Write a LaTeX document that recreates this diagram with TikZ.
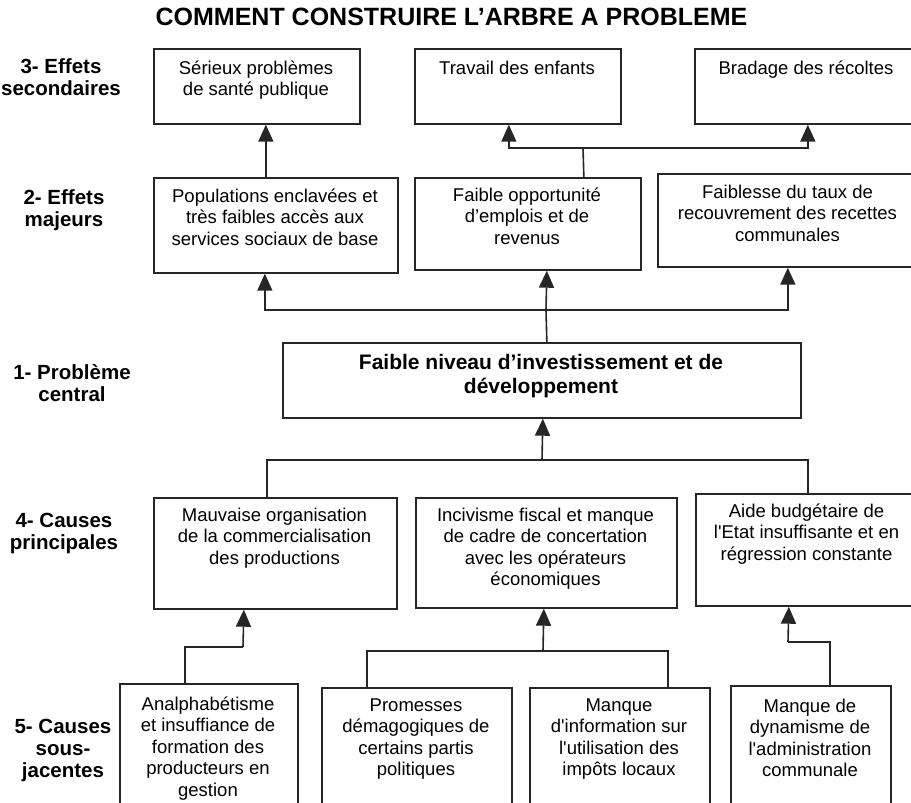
\documentclass[tikz,border=0pt]{standalone}
\usepackage{fontspec}
\setmainfont{Liberation Sans}
\usetikzlibrary{arrows.meta}
\definecolor{linec}{HTML}{262626}
\begin{document}
\begin{tikzpicture}[x=1pt,y=-1pt,
  box/.style={draw=linec, line width=1.7pt, rectangle, inner sep=0pt, anchor=north west},
  txt/.style={font=\fontsize{18.5}{21.5}\selectfont, align=center, inner sep=0pt, anchor=north, execute at begin node=\strut},
  ctxt/.style={font=\bfseries\fontsize{21}{24}\selectfont, align=center, inner sep=0pt, anchor=north, execute at begin node=\strut},
  lbl/.style={font=\bfseries\fontsize{20.5}{22}\selectfont, align=center, inner sep=0pt, anchor=north, execute at begin node=\strut},
  link/.style={draw=linec, line width=1.6pt},
  arr/.style={link, -{Triangle[width=15pt,length=17pt]}},
]
\useasboundingbox (0,0) rectangle (911,803);
\clip (0,0) rectangle (911,803);
\fill[white] (0,0) rectangle (911,803);

% title
\node[font=\bfseries\fontsize{25}{30}\selectfont, anchor=base, inner sep=0pt] (title) at (451.5,25) {COMMENT CONSTRUIRE L’ARBRE A PROBLEME};

% level labels
\node[lbl] (l3) at (61,58) {3- Effets\\secondaires};
\node[lbl] (l2) at (64,189) {2- Effets\\majeurs};
\node[lbl] (l1) at (72,364) {1- Problème\\central};
\node[lbl] (l4) at (64,513) {4- Causes\\principales};
\node[lbl] (l5) at (63,719) {5- Causes\\sous-\\jacentes};

% secondary effects
\node[box, minimum width=206pt, minimum height=75pt] (s1) at (153,48) {};
\node[box, minimum width=206pt, minimum height=75pt] (s2) at (414,48) {};
\node[box, minimum width=224pt, minimum height=75pt] (s3) at (694,48) {};
\node[txt] (s1t) at (256,60.5) {Sérieux problèmes\\de santé publique};
\node[txt] (s2t) at (517,59.5) {Travail des enfants};
\node[txt] (s3t) at (806,59.5) {Bradage des récoltes};

% major effects
\node[box, minimum width=244pt, minimum height=95pt] (m1) at (153,177) {};
\node[box, minimum width=226pt, minimum height=92pt] (m2) at (414,177) {};
\node[box, minimum width=261pt, minimum height=93pt] (m3) at (657,173) {};
\node[txt] (m1t) at (275,188.5) {Populations enclavées et\\très faibles accès aux\\services sociaux de base};
\node[txt] (m2t) at (527,187.5) {Faible opportunité\\d’emplois et de\\revenus};
\node[txt] (m3t) at (787.5,184.5) {Faiblesse du taux de\\recouvrement des recettes\\communales};

% central problem
\node[box, minimum width=518pt, minimum height=75pt] (c) at (282,342) {};
\node[ctxt] (ct) at (541,353.7) {Faible niveau d’investissement et de\\développement};

% main causes
\node[box, minimum width=243pt, minimum height=111pt] (p1) at (153,497) {};
\node[box, minimum width=261pt, minimum height=110pt] (p2) at (415,497) {};
\node[box, minimum width=223pt, minimum height=112pt] (p3) at (695,493) {};
\node[txt] (p1t) at (274.5,507.5) {Mauvaise organisation\\de la commercialisation\\des productions};
\node[txt] (p2t) at (545.5,507.5) {Incivisme fiscal et manque\\de cadre de concertation\\avec les opérateurs\\économiques};
\node[txt] (p3t) at (806.5,503.5) {Aide budgétaire de\\l\textquotesingle Etat insuffisante et en\\régression constante};

% underlying causes
\node[box, minimum width=178pt, minimum height=150pt] (u1) at (119,683) {};
\node[box, minimum width=190pt, minimum height=150pt] (u2) at (321,687) {};
\node[box, minimum width=180pt, minimum height=150pt] (u3) at (529,687) {};
\node[box, minimum width=160pt, minimum height=150pt] (u4) at (730,685) {};
\node[txt] (u1t) at (208,696.5) {Analphabétisme\\et insuffiance de\\formation des\\producteurs en\\gestion};
\node[txt] (u2t) at (416,698.5) {Promesses\\démagogiques de\\certains partis\\politiques};
\node[txt] (u3t) at (619,698.5) {Manque\\d\textquotesingle information sur\\l\textquotesingle utilisation des\\impôts locaux};
\node[txt] (u4t) at (810,698.5) {Manque de\\dynamisme de\\l\textquotesingle administration\\communale};

% major -> secondary effects
\draw[arr] ([xshift=-10pt]m1.north) -- ([xshift=9pt]s1.south);
\coordinate (j2) at (583,148);
\draw[link] ([xshift=56pt]m2.north) -- (j2);
\draw[arr] (j2) -| ([xshift=-9pt]s2.south);
\draw[arr] (j2) -| ([xshift=1pt]s3.south);

% central -> major effects
\coordinate (j1) at (546,310);
\draw[link] ([xshift=5pt]c.north) -- (j1);
\draw[arr] (j1) -| ([xshift=-11pt]m1.south);
\draw[arr] (j1) -- ([xshift=19pt]m2.south);
\draw[arr] (j1) -| ([xshift=-0.5pt]m3.south);

% main causes -> central
\coordinate (j4) at (542,460);
\draw[link] ([xshift=-8.5pt]p1.north) |- (j4);
\draw[link] ([xshift=0.5pt]p3.north) |- (j4);
\draw[arr] (j4) -- ([xshift=1pt]c.south);

% underlying -> main causes
\coordinate (j5a) at (243,647);
\draw[link] ([xshift=-24pt]u1.north) |- (j5a);
\draw[arr] (j5a) -- ([xshift=-31.5pt]p1.south);
\coordinate (j5b) at (543,651);
\draw[link] ([xshift=-50pt]u2.north) |- (j5b);
\draw[link] ([xshift=48pt]u3.north) |- (j5b);
\draw[arr] (j5b) -- ([xshift=-2.5pt]p2.south);
\coordinate (j5c) at (788,642);
\draw[link] ([xshift=19pt]u4.north) |- (j5c);
\draw[arr] (j5c) -- ([xshift=-18.5pt]p3.south);
\end{tikzpicture}
\end{document}
